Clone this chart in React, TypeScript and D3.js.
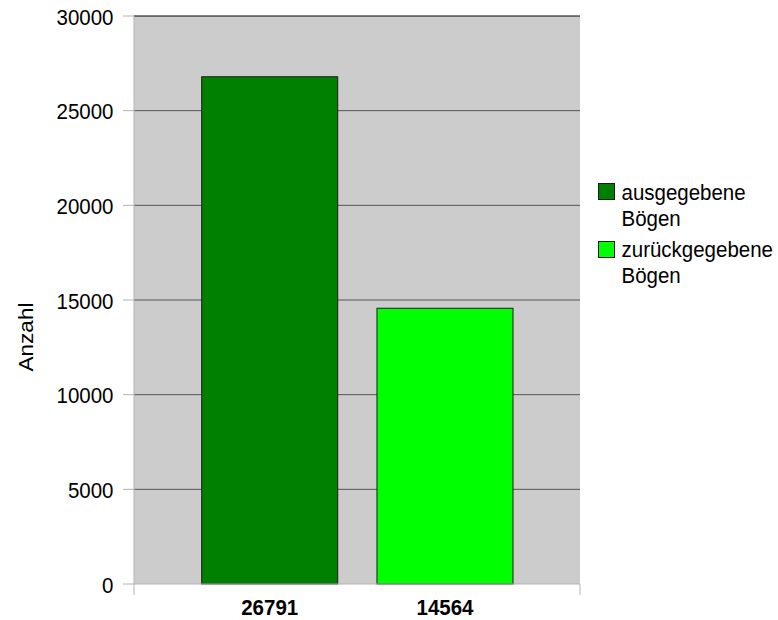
import React from "react";
import * as d3 from "d3";

const seriesNames = ["ausgegebene Bögen", "zurückgegebene Bögen"];
const legendLines = [["ausgegebene", "Bögen"], ["zurückgegebene", "Bögen"]];
const values = [26791, 14564];
const barLabels = ["26791", "14564"];
const colors = ["#008000", "#00ff00"];
const yTicks = [0, 5000, 10000, 15000, 20000, 25000, 30000];

const FS = 20.5;
const SY = 1.1;

function T({ x, y, children, anchor = "start", bold = false, rotate = 0 }: any) {
  return (
    <text
      transform={`translate(${x},${y}) scale(1,${SY})${rotate ? ` rotate(${rotate})` : ""}`}
      textAnchor={anchor}
      fontSize={FS}
      fontWeight={bold ? "bold" : "normal"}
      fill="#000"
    >
      {children}
    </text>
  );
}

export default function App() {
  const W = 778, H = 620;
  const left = 134, right = 580, top = 16, bottom = 584;
  const y = d3.scaleLinear().domain([0, 30000]).range([bottom, top]);
  const x = d3.scaleBand().domain(seriesNames).range([201.7, 513]).paddingInner(0.224);
  const font = "Liberation Sans, Arial, sans-serif";
  return (
    <svg width={W} height={H} style={{ position: "absolute", left: 0, top: 0 }} fontFamily={font}>
      <rect x={0} y={0} width={W} height={H} fill="#fff" />
      <rect x={left} y={top} width={right - left} height={bottom - top} fill="#cccccc" />
      {yTicks.map((t) => (
        <g key={t}>
          {t > 0 && (
            <line x1={left} x2={right} y1={y(t)} y2={y(t)} stroke={t === 30000 ? "#000" : "#555"} strokeWidth={1} />
          )}
          <line x1={123} x2={left} y1={y(t)} y2={y(t)} stroke="#b3b3b3" />
          <T x={113.5} y={y(t) + 8.5} anchor="end">{t}</T>
        </g>
      ))}
      {values.map((v, i) => (
        <rect key={i} x={x(seriesNames[i])} y={y(v)} width={x.bandwidth()} height={bottom - y(v)}
          fill={colors[i]} stroke="#1a1a1a" strokeWidth={1} />
      ))}
      <line x1={left} x2={left} y1={top} y2={bottom} stroke="#b3b3b3" />
      <line x1={left} x2={right} y1={bottom} y2={bottom} stroke="#b3b3b3" />
      <line x1={left} x2={left} y1={bottom} y2={bottom + 11} stroke="#b3b3b3" />
      <line x1={right} x2={right} y1={bottom} y2={bottom + 11} stroke="#b3b3b3" />
      {barLabels.map((l, i) => (
        <T key={l} x={(x(seriesNames[i]) as number) + x.bandwidth() / 2} y={614.5} anchor="middle" bold>{l}</T>
      ))}
      <T x={32.5} y={337} anchor="middle" rotate={-90}>Anzahl</T>
      {legendLines.map((lines, i) => (
        <g key={i}>
          <rect x={598.5} y={183.5 + i * 58} width={16} height={16} fill={colors[i]} stroke="#1a1a1a" />
          {lines.map((ln, j) => (
            <T key={j} x={621.5} y={200 + i * 57 + j * 25.5}>{ln}</T>
          ))}
        </g>
      ))}
    </svg>
  );
}
